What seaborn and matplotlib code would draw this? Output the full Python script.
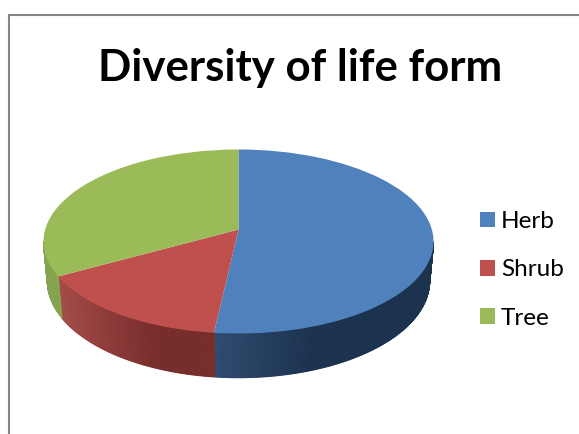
import numpy as np
import matplotlib
matplotlib.use("Agg")
import matplotlib.pyplot as plt
from matplotlib.lines import Line2D
from matplotlib.colors import to_rgb
import seaborn as sns

labels = ["Herb", "Shrub", "Tree"]
values = [52.0, 16.8, 31.2]
colors = ["#4f81bd", "#c0504d", "#9bbb59"]
side_dark = ["#1c3350", "#772d2b", "#86a350"]
side_light = ["#2f4b70", "#a54c49", "#86a350"]
title = "Diversity of life form"

W, H = 579, 434
sns.set_theme(style="white")
plt.rcParams["font.family"] = ["Lato", "DejaVu Sans"]
palette = sns.color_palette(colors)

fig = plt.figure(figsize=(W / 100, H / 100), dpi=100, facecolor="white")
L, R, T, B = 43.5, 433.5, 149.5, 333.5
ax = fig.add_axes([L / W, 1 - B / H, (R - L) / W, (B - T) / H])

wedges, _ = ax.pie(values, colors=palette, startangle=90, counterclock=False,
                   radius=1, center=(0, 0), frame=False, wedgeprops={"linewidth": 0, "zorder": 5})
ax.set_aspect("auto")
ax.set_xlim(-1, 1)
ax.set_ylim(-1, 1)
ax.set_axis_off()

# Apex sits above the ellipse centre because of the 3-D perspective
apex = np.array([0.0, 0.13])
for w in wedges:
    w.set_clip_on(False)
    v = w.get_path().vertices
    v[np.all(np.isclose(v, 0.0), axis=1)] = apex

# Side wall of the pie: lower rim is a slightly narrower ellipse
lower_rx, lower_cy, lower_ry = 0.98, -0.43, 1.05
for w, c0, c1 in zip(wedges, side_light, side_dark):
    t1, t2 = sorted((w.theta1, w.theta2))
    th = np.arange(t1, t2 + 0.5, 0.5)
    th = th[(np.mod(th, 360) >= 180)]
    for a, b in zip(th[:-1], th[1:]):
        ra, rb = np.radians([a, b])
        xs = [np.cos(ra), np.cos(rb), lower_rx * np.cos(rb), lower_rx * np.cos(ra)]
        ys = [np.sin(ra), np.sin(rb), lower_cy + lower_ry * np.sin(rb), lower_cy + lower_ry * np.sin(ra)]
        f = np.clip((np.cos(ra) - np.cos(np.radians(th[0]))) /
                    max(min(abs(np.cos(np.radians(th[-1])) - np.cos(np.radians(th[0]))), 0.5), 1e-6), 0, 1)
        col = (1 - f) * np.array(to_rgb(c0)) + f * np.array(to_rgb(c1))
        ax.fill(xs, ys, facecolor=col, edgecolor=col, lw=0.8, clip_on=False, zorder=2)

fig.text(300 / W, 1 - 81 / H, title, ha="center", va="baseline",
         fontsize=31.5, fontweight="bold", color="black")

ax.legend(wedges, labels, loc="upper left", bbox_to_anchor=(480 / W, 1 - 211 / H),
          bbox_transform=fig.transFigure, frameon=False, fontsize=17.5, labelcolor="black",
          handlelength=0.62, handleheight=0.62, handletextpad=0.24,
          labelspacing=1.13, borderpad=0, borderaxespad=0)

fig.add_artist(Line2D([9 / W, 9 / W, 1], [0, 1 - 14.5 / H, 1 - 14.5 / H],
                      color="#868686", lw=1.5, solid_joinstyle="miter"))
fig.savefig("out.png", dpi=100, facecolor="white")
